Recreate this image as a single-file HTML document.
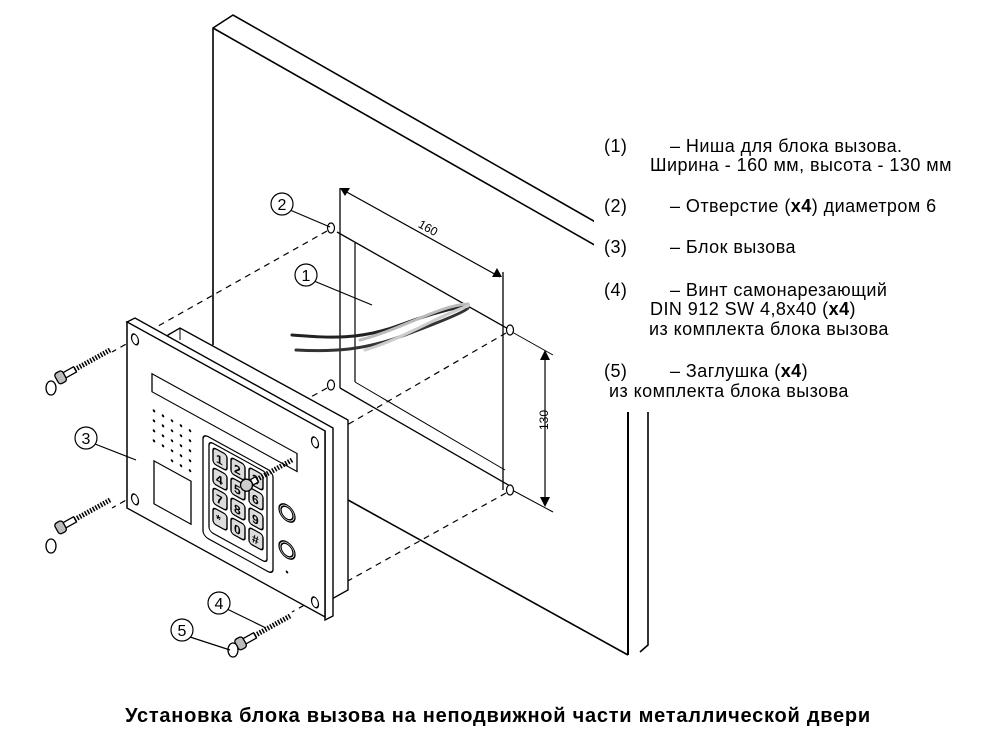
<!DOCTYPE html>
<html><head><meta charset="utf-8"><style>
body{margin:0;background:#fff;}
svg{display:block}
text{font-family:"Liberation Sans",sans-serif;fill:#000}
</style></head><body>
<svg width="994" height="750" viewBox="0 0 994 750" xmlns="http://www.w3.org/2000/svg">
<g fill="none" stroke="#000" stroke-width="1.6">
<polyline points="213,345 213,28 233,15 648,252 648,645 640,652"/>
<line x1="213" y1="28" x2="628" y2="264"/>
<line x1="628" y1="264" x2="628" y2="655" stroke-width="2"/>
<line x1="330" y1="490" x2="628" y2="655"/>
<line x1="340" y1="188" x2="340" y2="388" stroke-width="1.3"/>
<line x1="355" y1="243" x2="355" y2="382" stroke-width="1.2"/>
<line x1="337" y1="232" x2="510" y2="330" stroke-width="1.3"/>
<line x1="340" y1="388" x2="510" y2="486" stroke-width="1.3"/>
<line x1="355" y1="382" x2="505" y2="470" stroke-width="1"/>
<line x1="503" y1="272" x2="503" y2="490" stroke-width="1.3"/>
<line x1="512" y1="332" x2="553" y2="355" stroke-width="1"/>
<line x1="512" y1="490" x2="553" y2="512" stroke-width="1"/>
<line x1="545" y1="352" x2="545" y2="505" stroke-width="1.2"/>
<line x1="343" y1="190" x2="500" y2="277" stroke-width="1.2"/>
</g>
<g fill="#000">
<polygon points="340,188 350,188 345,196"/>
<polygon points="502,277 492,277 497,268"/>
<polygon points="545,350 540,360 550,360"/>
<polygon points="545,507 540,497 550,497"/>
</g>
<text x="418" y="232" font-size="12" transform="rotate(29 428 228)">160</text>
<text x="538" y="440" font-size="12" transform="rotate(-90 538 430)">130</text>
<g fill="none" stroke-linecap="round">
<path d="M292,335 C330,338 360,340 400,325 C440,310 470,305 468,305" stroke="#222" stroke-width="3"/>
<path d="M296,350 C335,352 365,350 405,335 C440,322 465,312 468,308" stroke="#333" stroke-width="3"/>
<path d="M360,340 C400,330 440,305 468,304" stroke="#bbb" stroke-width="3"/>
<path d="M365,350 C405,338 440,315 468,306" stroke="#ccc" stroke-width="3"/>
</g>
<g fill="#fff" stroke="#000" stroke-width="1.2">
<ellipse cx="331" cy="228" rx="3.5" ry="5"/><ellipse cx="510" cy="330" rx="3.5" ry="5"/>
<ellipse cx="331" cy="385" rx="3.5" ry="5"/><ellipse cx="510" cy="490" rx="3.5" ry="5"/>
</g>
<g stroke="#000" stroke-width="1.2" stroke-dasharray="6,5">
<line x1="327" y1="231" x2="112" y2="352"/>
<line x1="506" y1="333" x2="290" y2="458"/>
<line x1="327" y1="388" x2="112" y2="508"/>
<line x1="506" y1="493" x2="292" y2="612"/>
</g>
<polygon points="168,335 180,328 348,420 348,590 330,600 168,505" fill="#fff" stroke="#000" stroke-width="1.4"/>
<line x1="180" y1="328" x2="180" y2="340" stroke="#000"/>
<polygon points="127,322 135,318 333,428 333,616 325,620 325,431" fill="#fff" stroke="#000" stroke-width="1.4"/>
<g transform="matrix(1,0.55,0,1,127,322)" stroke="#000" fill="none" stroke-width="1.3">
<rect x="0" y="0" width="198" height="186" fill="#fff" stroke-width="1.5"/>
<ellipse cx="8" cy="13" rx="3.5" ry="5"/><ellipse cx="8" cy="173" rx="3.5" ry="5"/>
<ellipse cx="188" cy="17" rx="3.5" ry="5"/><ellipse cx="188" cy="177" rx="3.5" ry="5"/>
<rect x="25" y="38" width="145" height="18"/>
<rect x="27" y="124" width="37" height="43"/>
<rect x="76" y="70" width="70" height="102" rx="5"/>
<rect x="82" y="74" width="58" height="90" rx="4"/>
<circle cx="160" cy="103" r="8"/><circle cx="160" cy="103" r="6"/>
<circle cx="160" cy="140" r="8"/><circle cx="160" cy="140" r="6"/>
<g fill="#000" stroke="none">
<circle cx="27" cy="74" r="1.3"/><circle cx="36" cy="74" r="1.3"/><circle cx="45" cy="74" r="1.3"/><circle cx="54" cy="74" r="1.3"/><circle cx="63" cy="74" r="1.3"/>
<circle cx="27" cy="84" r="1.3"/><circle cx="36" cy="84" r="1.3"/><circle cx="45" cy="84" r="1.3"/><circle cx="54" cy="84" r="1.3"/><circle cx="63" cy="84" r="1.3"/>
<circle cx="27" cy="94" r="1.3"/><circle cx="36" cy="94" r="1.3"/><circle cx="45" cy="94" r="1.3"/><circle cx="54" cy="94" r="1.3"/><circle cx="63" cy="94" r="1.3"/>
<circle cx="27" cy="104" r="1.3"/><circle cx="36" cy="104" r="1.3"/><circle cx="45" cy="104" r="1.3"/><circle cx="54" cy="104" r="1.3"/><circle cx="63" cy="104" r="1.3"/>
<circle cx="45" cy="114" r="1.3"/><circle cx="54" cy="114" r="1.3"/><circle cx="63" cy="114" r="1.3"/>
<circle cx="160" cy="162" r="1.3"/>
</g>
<g fill="#ddd" stroke-width="1.4">
<rect x="86" y="78" width="14" height="16" rx="3"/><rect x="104" y="78" width="14" height="16" rx="3"/><rect x="122" y="78" width="14" height="16" rx="3"/>
<rect x="86" y="98" width="14" height="16" rx="3"/><rect x="104" y="98" width="14" height="16" rx="3"/><rect x="122" y="98" width="14" height="16" rx="3"/>
<rect x="86" y="118" width="14" height="16" rx="3"/><rect x="104" y="118" width="14" height="16" rx="3"/><rect x="122" y="118" width="14" height="16" rx="3"/>
<rect x="86" y="138" width="14" height="16" rx="3"/><rect x="104" y="138" width="14" height="16" rx="3"/><rect x="122" y="138" width="14" height="16" rx="3"/>
</g>
<g font-size="12" font-weight="bold" stroke="none">
<text x="89" y="91">1</text><text x="107" y="91">2</text><text x="125" y="91">3</text>
<text x="89" y="111">4</text><text x="107" y="111">5</text><text x="125" y="111">6</text>
<text x="89" y="131">7</text><text x="107" y="131">8</text><text x="125" y="131">9</text>
<text x="89" y="151">*</text><text x="107" y="151">0</text><text x="125" y="151">#</text>
</g>
</g>
<g stroke="#000" fill="#fff" stroke-width="1.3">
<g transform="translate(110,350) rotate(151)"><line x1="0" y1="0" x2="40" y2="0" stroke-width="5" stroke-dasharray="1.5,1.5"/><rect x="40" y="-3" width="12" height="6"/><rect x="52" y="-6" width="9" height="12" rx="3" fill="#bbb"/></g>
<g transform="translate(110,500) rotate(151)"><line x1="0" y1="0" x2="40" y2="0" stroke-width="5" stroke-dasharray="1.5,1.5"/><rect x="40" y="-3" width="12" height="6"/><rect x="52" y="-6" width="9" height="12" rx="3" fill="#bbb"/></g>
<g transform="translate(292,460) rotate(151)"><line x1="0" y1="0" x2="40" y2="0" stroke-width="5" stroke-dasharray="1.5,1.5"/><rect x="40" y="-3" width="6" height="6"/><circle cx="52" cy="0" r="6" fill="#ccc"/></g>
<g transform="translate(290,616) rotate(151)"><line x1="0" y1="0" x2="40" y2="0" stroke-width="5" stroke-dasharray="1.5,1.5"/><rect x="40" y="-3" width="12" height="6"/><rect x="52" y="-6" width="9" height="12" rx="3" fill="#bbb"/></g>
<ellipse cx="51" cy="388" rx="5" ry="7"/><ellipse cx="51" cy="546" rx="5" ry="7"/><ellipse cx="233" cy="650" rx="5" ry="7"/>
</g>
<g stroke="#000" fill="#fff" stroke-width="1.2">
<line x1="314" y1="281" x2="372" y2="305"/>
<line x1="290" y1="210" x2="330" y2="227"/>
<line x1="95" y1="444" x2="136" y2="460"/>
<line x1="227" y1="609" x2="266" y2="628"/>
<line x1="190" y1="637" x2="230" y2="650"/>
<circle cx="306" cy="275" r="11"/><circle cx="282" cy="204" r="11"/><circle cx="86" cy="438" r="11"/><circle cx="219" cy="603" r="11"/><circle cx="182" cy="630" r="11"/>
</g>
<g font-size="16" text-anchor="middle">
<text x="306" y="281">1</text><text x="282" y="210">2</text><text x="86" y="444">3</text><text x="219" y="609">4</text><text x="182" y="636">5</text>
</g>
<rect x="594" y="125" width="400" height="287" fill="#fff"/>
<g font-size="18" letter-spacing="0.45">
<text x="604" y="152">(1)</text><text x="670" y="152">– Ниша для блока вызова.</text>
<text x="650" y="171">Ширина - 160 мм, высота - 130 мм</text>
<text x="604" y="212">(2)</text><text x="670" y="212">– Отверстие (<tspan font-weight="bold">x4</tspan>) диаметром 6</text>
<text x="604" y="253">(3)</text><text x="670" y="253">– Блок вызова</text>
<text x="604" y="296">(4)</text><text x="670" y="296">– Винт самонарезающий</text>
<text x="650" y="315">DIN 912 SW  4,8x40 (<tspan font-weight="bold">x4</tspan>)</text>
<text x="649" y="335">из комплекта блока вызова</text>
<text x="604" y="377">(5)</text><text x="670" y="377">– Заглушка (<tspan font-weight="bold">x4</tspan>)</text>
<text x="609" y="397">из комплекта блока вызова</text>
</g>
<text x="498" y="722" font-size="20" font-weight="bold" text-anchor="middle" letter-spacing="0.75">Установка блока вызова на неподвижной части металлической двери</text>
</svg>
</body></html>
